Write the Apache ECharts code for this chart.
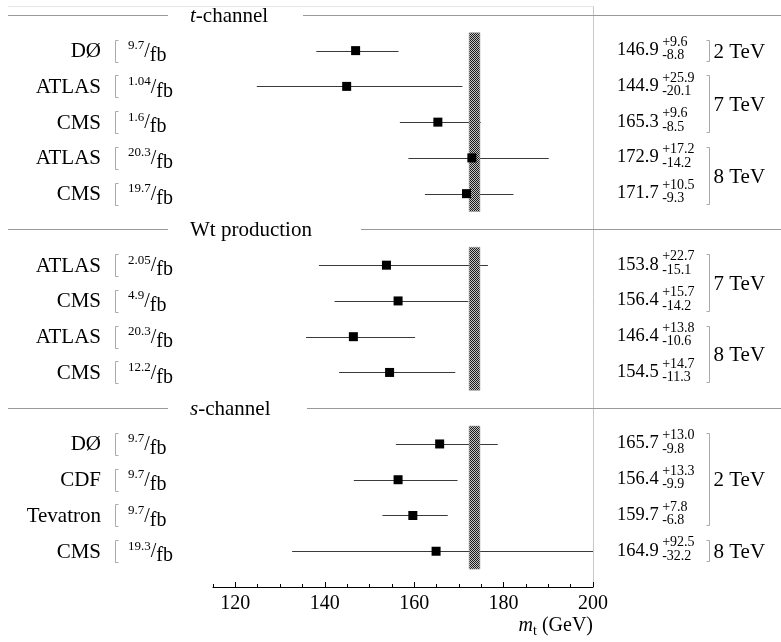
<!DOCTYPE html>
<html>
<head>
<meta charset="utf-8">
<script src="https://cdn.jsdelivr.net/npm/echarts@6/dist/echarts.min.js"></script>
<style>
html, body { margin: 0; padding: 0; background: #fff; }
#chart { width: 781px; height: 642px; }
</style>
</head>
<body>
<div id="chart"></div>
<script>
// ── data ──
var headerItalic = ['t', '', 's'];
var headerRest = ['-channel', 'Wt production', '-channel'];
var headerRows = [0, 6, 11];

var bandFrom = [0.5, 6.5, 11.5];
var bandTo = [5.5, 10.5, 15.5];
var bandMass = [172.3, 174.7];

var rows = [1, 2, 3, 4, 5, 7, 8, 9, 10, 12, 13, 14, 15];
var experiments = ['DØ', 'ATLAS', 'CMS', 'ATLAS', 'CMS', 'ATLAS', 'CMS', 'ATLAS', 'CMS', 'DØ', 'CDF', 'Tevatron', 'CMS'];
var lumi = ['9.7', '1.04', '1.6', '20.3', '19.7', '2.05', '4.9', '20.3', '12.2', '9.7', '9.7', '9.7', '19.3'];
var mass = [146.9, 144.9, 165.3, 172.9, 171.7, 153.8, 156.4, 146.4, 154.5, 165.7, 156.4, 159.7, 164.9];
var errUp = [9.6, 25.9, 9.6, 17.2, 10.5, 22.7, 15.7, 13.8, 14.7, 13.0, 13.3, 7.8, 92.5];
var errDown = [8.8, 20.1, 8.5, 14.2, 9.3, 15.1, 14.2, 10.6, 11.3, 9.8, 9.9, 6.8, 32.2];

var energyLabels = ['2 TeV', '7 TeV', '8 TeV', '7 TeV', '8 TeV', '2 TeV', '8 TeV'];
var energyFirst = [1, 2, 4, 7, 9, 12, 15];
var energyLast = [1, 3, 5, 8, 10, 14, 15];

// ── layout ──
var FONT = '"Liberation Serif", "Times New Roman", serif';
var plotLeft = 213, plotRight = 593, plotTop = 7, plotBottom = 587;
var headerLineEnd = 168;
var headerTextX = 190;
var headerLineStart = [303, 361, 307];
var nameRight = 101;
var lumiX = 128;
var valueX = 617;
var energyBracketX = 709.5;
// the labelled axis starts at 120 GeV, 5 GeV right of the plot edge
var majorLeft = plotLeft + 5 * (plotRight - plotLeft) / 85;

var mctx = document.createElement('canvas').getContext('2d');
function measure(s, size, italic) {
  mctx.font = (italic ? 'italic ' : '') + size + 'px ' + FONT;
  return mctx.measureText(s).width;
}
function txt(x, y, s, size, align, italic) {
  return { type: 'text', x: x, y: y, silent: true,
    style: { text: s, fontSize: size, fontFamily: FONT, fontStyle: italic ? 'italic' : 'normal',
      fill: '#000', align: align || 'left', verticalAlign: 'middle' } };
}
function bracket(x, y1, y2, t) {
  return { type: 'polyline', silent: true,
    shape: { points: [[x + t, y1], [x, y1], [x, y2], [x + t, y2]] },
    style: { stroke: '#aaa', lineWidth: 1, fill: null } };
}

// stipple pattern for the band
var pc = document.createElement('canvas');
pc.width = 2; pc.height = 2;
var pctx = pc.getContext('2d');
pctx.fillStyle = '#c4c4c4'; pctx.fillRect(0, 0, 2, 2);
pctx.fillStyle = '#1a1a1a'; pctx.fillRect(0, 0, 1, 1); pctx.fillRect(1, 1, 1, 1);

var barData = rows.map(function(r, i) { return [mass[i], r, mass[i] - errDown[i], mass[i] + errUp[i]]; });
var pointData = rows.map(function(r, i) { return [mass[i], r]; });
var textData = rows.map(function(r, i) { return [mass[i], r, i]; });
var bandData = bandFrom.map(function(f, i) { return [bandMass[0], f, bandMass[1], bandTo[i]]; });
var headerData = headerRows.map(function(r, i) { return [115, r, i]; });
var energyData = energyFirst.map(function(f, i) { return [115, f, energyLast[i], i]; });

var chart = echarts.init(document.getElementById('chart'));
chart.setOption({
  animation: false,
  grid: [
    { left: plotLeft, right: 781 - plotRight, top: plotTop, bottom: 642 - plotBottom },
    { left: majorLeft, right: 781 - plotRight, top: plotTop, bottom: 642 - plotBottom }
  ],
  xAxis: [{
    type: 'value', gridIndex: 0, min: 115, max: 200, interval: 5, position: 'bottom',
    axisLine: { onZero: false, lineStyle: { color: '#000', width: 1 } },
    axisTick: { inside: true, length: 3, lineStyle: { color: '#000' } },
    axisLabel: { show: false },
    splitLine: { show: false }
  }, {
    type: 'value', gridIndex: 1, min: 120, max: 200, interval: 20, position: 'bottom',
    axisLine: { show: false, onZero: false },
    axisTick: { inside: true, length: 5, lineStyle: { color: '#000' } },
    axisLabel: { color: '#000', fontSize: 20, fontFamily: FONT, margin: 7 },
    splitLine: { show: false }
  }],
  yAxis: [
    { type: 'value', gridIndex: 0, inverse: true, min: -0.22, max: 16, show: false },
    { type: 'value', gridIndex: 1, min: 0, max: 1, show: false }
  ],
  series: [{
    // error bars
    type: 'custom', clip: true, z: 2,
    data: barData,
    renderItem: function(params, api) {
      var p1 = api.coord([api.value(2), api.value(1)]);
      var p2 = api.coord([api.value(3), api.value(1)]);
      var y = Math.round(p1[1]) + 0.5;
      return { type: 'line', shape: { x1: p1[0], y1: y, x2: p2[0], y2: y },
        style: { stroke: '#3a3a3a', lineWidth: 1 } };
    }
  }, {
    // world-average band
    type: 'custom', clip: true, z: 3,
    data: bandData,
    renderItem: function(params, api) {
      var a = api.coord([api.value(0), api.value(1)]);
      var b = api.coord([api.value(2), api.value(3)]);
      return { type: 'rect', shape: { x: a[0], y: a[1], width: b[0] - a[0], height: b[1] - a[1] },
        style: { fill: { image: pc, repeat: 'repeat' }, stroke: '#999', lineWidth: 0.6 } };
    }
  }, {
    type: 'scatter', z: 4,
    data: pointData,
    symbol: 'rect', symbolSize: 9,
    itemStyle: { color: '#000', opacity: 1 }
  }, {
    // row texts
    type: 'custom', clip: false, z: 5,
    data: textData,
    renderItem: function(params, api) {
      var i = api.value(2);
      var y = api.coord([115, api.value(1)])[1];
      var ch = [];
      ch.push(txt(nameRight, y + 1, experiments[i], 21, 'right'));
      ch.push(bracket(115.5, Math.round(y) - 10.5, Math.round(y) + 11.5, 3));
      var x = lumiX;
      ch.push(txt(x, y - 5, lumi[i], 13, 'left'));
      x += measure(lumi[i], 13);
      ch.push(txt(x, y + 1, '/', 20, 'left'));
      x += measure('/', 20);
      ch.push(txt(x, y + 5, 'fb', 20, 'left'));
      var v = mass[i].toFixed(1);
      ch.push(txt(valueX, y - 0.5, v, 18.5, 'left'));
      var vx = valueX + measure(v, 18.5) + 3.5;
      ch.push(txt(vx, y - 8.5, '+' + errUp[i].toFixed(1), 14, 'left'));
      ch.push(txt(vx, y + 5, '-' + errDown[i].toFixed(1), 14, 'left'));
      return { type: 'group', children: ch };
    }
  }, {
    // group headers
    type: 'custom', clip: false, z: 5,
    data: headerData,
    renderItem: function(params, api) {
      var i = api.value(2);
      var y = Math.round(api.coord([115, api.value(1)])[1]) + 0.5;
      var ch = [];
      ch.push({ type: 'line', silent: true, shape: { x1: 8, y1: y, x2: headerLineEnd, y2: y },
        style: { stroke: '#999', lineWidth: 1 } });
      ch.push({ type: 'line', silent: true, shape: { x1: headerLineStart[i], y1: y, x2: 781, y2: y },
        style: { stroke: '#999', lineWidth: 1 } });
      var x = headerTextX;
      if (headerItalic[i]) {
        ch.push(txt(x, y + 1, headerItalic[i], 21, 'left', true));
        x += measure(headerItalic[i], 21, true);
      }
      ch.push(txt(x, y + 1, headerRest[i], 21, 'left'));
      return { type: 'group', children: ch };
    }
  }, {
    // energy brackets
    type: 'custom', clip: false, z: 5,
    data: energyData,
    renderItem: function(params, api) {
      var i = api.value(3);
      var y1 = Math.round(api.coord([115, api.value(1)])[1]) - 10.5;
      var y2 = Math.round(api.coord([115, api.value(2)])[1]) + 10.5;
      return { type: 'group', children: [
        bracket(energyBracketX, y1, y2, -3),
        txt(energyBracketX + 4, (y1 + y2) / 2 + 1, energyLabels[i], 21, 'left')
      ] };
    }
  }],
  graphic: (function() {
    var wm = measure('m', 20, true), wt = measure('t', 14), wg = measure(' (GeV)', 20);
    var x0 = plotRight - (wm + wt + wg), y = 626;
    return [
      { type: 'line', silent: true, shape: { x1: 8, y1: 6.5, x2: plotRight + 0.5, y2: 6.5 }, style: { stroke: '#e6e6e6', lineWidth: 1 } },
      { type: 'line', silent: true, shape: { x1: plotRight + 0.5, y1: 6.5, x2: plotRight + 0.5, y2: plotBottom }, style: { stroke: '#c8c8c8', lineWidth: 1 } },
      txt(x0, y, 'm', 20, 'left', true),
      txt(x0 + wm, y + 5, 't', 14, 'left'),
      txt(x0 + wm + wt, y, ' (GeV)', 20, 'left')
    ];
  })()
});
</script>
</body>
</html>
